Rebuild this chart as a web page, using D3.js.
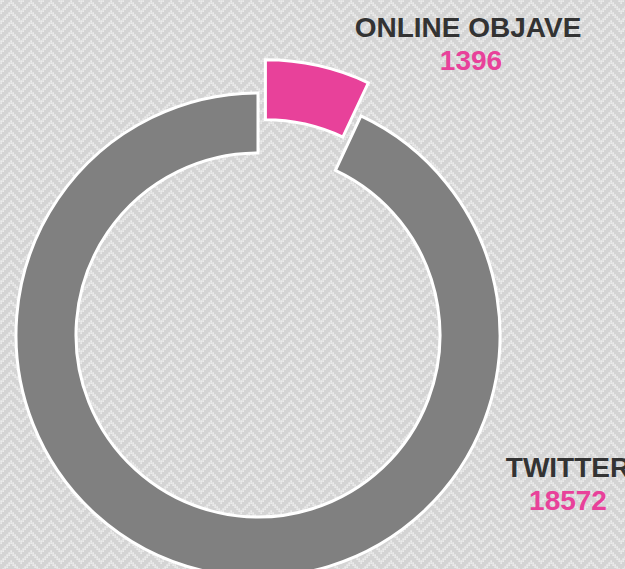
<!DOCTYPE html>
<html lang="en">
<head>
  <meta charset="utf-8" />
  <title>Online objave vs Twitter</title>
  <script src="https://d3js.org/d3.v7.min.js"></script>
  <style>
    html, body { margin: 0; padding: 0; overflow: hidden; }
    svg { display: block; font-family: "Liberation Sans", Arial, sans-serif; }
  </style>
</head>
<body>
<svg width="625" height="569"></svg>
<script>
// data
var categories = ["ONLINE OBJAVE", "TWITTER"];
var values = [1396, 18572];
var colors = ["#e8419a", "#808080"];
// label anchors (text centre x, name baseline y) - placed like the original
var labelX = [468, 568];
var labelY = [37, 477];

var width = 625, height = 569;
var cx = 258, cy = 335;
var outerR = 242, innerR = 182;
var explode = 34;

var svg = d3.select("svg");

// background weave pattern: 45 degree chevrons of small light squares
var tileW = 20, tileH = 10, sq = 2;
var defs = svg.append("defs");
var pat = defs.append("pattern")
  .attr("id", "weave")
  .attr("width", tileW)
  .attr("height", tileH)
  .attr("patternUnits", "userSpaceOnUse");
pat.append("rect").attr("width", tileW).attr("height", tileH).attr("fill", "#d4d4d4");
var cells = [];
for (var x = 0; x < tileW; x += sq) {
  var y0 = Math.abs(x - tileW / 2);
  for (var k = 0; k < 2; k++) {
    cells.push([x, (y0 + k * sq) % tileH]);
  }
}
pat.selectAll("rect.c")
  .data(cells)
  .enter()
  .append("rect")
  .attr("class", "c")
  .attr("x", function(d){ return d[0] + 0.3; })
  .attr("y", function(d){ return d[1] + 0.3; })
  .attr("width", sq - 0.3)
  .attr("height", sq - 0.3)
  .attr("fill", "#ebebeb");

svg.append("rect")
  .attr("width", width)
  .attr("height", height)
  .attr("fill", "url(#weave)");

var pie = d3.pie().sort(null).value(function(d){ return d; });
var arcs = pie(values);

var arc = d3.arc().innerRadius(innerR).outerRadius(outerR);

var g = svg.append("g")
  .attr("transform", "translate(" + cx + "," + cy + ")");

g.selectAll("path")
  .data(arcs)
  .enter()
  .append("path")
  .attr("d", arc)
  .attr("fill", function(d, i){ return colors[i]; })
  .attr("stroke", "#fff")
  .attr("stroke-width", 3)
  .attr("stroke-linejoin", "miter")
  .attr("transform", function(d, i) {
    // first slice is pulled out
    if (i !== 0) return null;
    var a = (d.startAngle + d.endAngle) / 2;
    return "translate(" + (Math.sin(a) * explode) + "," + (-Math.cos(a) * explode) + ")";
  });

var labels = svg.append("g").attr("text-anchor", "middle");

categories.forEach(function(name, i) {
  labels.append("text")
    .attr("x", labelX[i])
    .attr("y", labelY[i])
    .attr("font-size", 28)
    .attr("font-weight", "bold")
    .attr("fill", "#333333")
    .text(name);
  labels.append("text")
    .attr("x", labelX[i] + (i === 0 ? 3 : 0))
    .attr("y", labelY[i] + 33)
    .attr("font-size", 28)
    .attr("font-weight", "bold")
    .attr("fill", colors[0])
    .text(values[i]);
});
</script>
</body>
</html>
